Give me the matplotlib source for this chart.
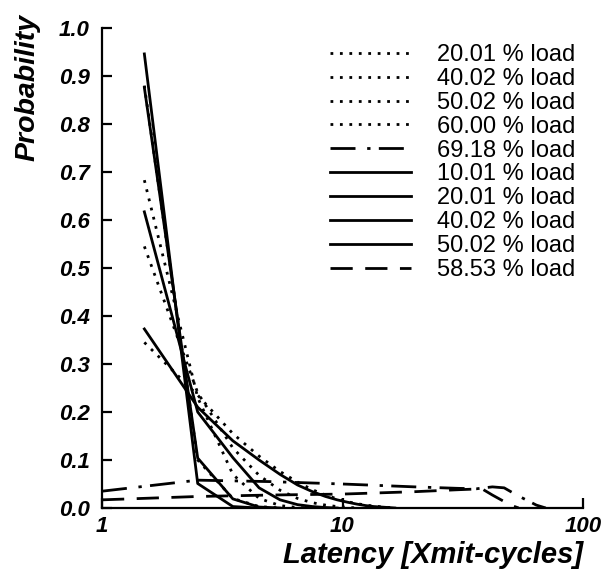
import matplotlib
matplotlib.use('Agg')
import matplotlib.pyplot as plt

plt.rcParams['font.family'] = ['Liberation Sans', 'DejaVu Sans']

# bin centres for the short-tailed curves
x_bins = [1.5, 2.5, 3.5, 4.5, 5.5, 6.5, 7.5, 8.5, 9.5, 10.5, 11.5, 12.5, 13.5, 14.5, 15.5, 16.5]

dot20 = [0.880, 0.100, 0.020, 0.003, 0.0]
dot40 = [0.683, 0.230, 0.070, 0.020, 0.005, 0.001, 0.0]
dot50 = [0.545, 0.240, 0.125, 0.068, 0.037, 0.020, 0.011, 0.006, 0.003, 0.0015, 0.0]
dot60 = [0.345, 0.235, 0.155, 0.108, 0.076, 0.054, 0.038, 0.027, 0.019, 0.013, 0.009, 0.006, 0.004, 0.0025, 0.0012, 0.0]

sol10 = [0.946, 0.051, 0.003, 0.0]
sol20 = [0.876, 0.104, 0.019, 0.002, 0.0]
sol40 = [0.617, 0.200, 0.105, 0.042, 0.017, 0.007, 0.003, 0.001, 0.0]
sol50 = [0.373, 0.210, 0.140, 0.100, 0.070, 0.048, 0.034, 0.024, 0.017, 0.012, 0.008, 0.005, 0.003, 0.002, 0.001, 0.0]

# heavy load curves (long tails)
dd69_x = [1.0, 2.5, 5, 10, 20, 30, 36, 42, 47, 53, 64, 70]
dd69_y = [0.035, 0.058, 0.055, 0.050, 0.044, 0.041, 0.040, 0.044, 0.042, 0.027, 0.006, 0.0]
da58_x = [1.0, 2.5, 5, 10, 20, 30, 38, 42, 50, 54]
da58_y = [0.017, 0.024, 0.027, 0.029, 0.034, 0.038, 0.040, 0.027, 0.006, 0.0]

dotted = (0, (1.0, 2.4))
dashdot = (0, (9, 4.2, 1.2, 3))
dashed = (0, (8, 4.5))

fig = plt.figure(figsize=(6.06, 5.74), dpi=100)
ax = fig.add_axes([102/606, 1 - 508/574, 481/606, 480/574])

lw = 2.0
ax.plot(x_bins[:len(dot20)], dot20, color='black', lw=lw, ls=dotted, label='20.01 % load')
ax.plot(x_bins[:len(dot40)], dot40, color='black', lw=lw, ls=dotted, label='40.02 % load')
ax.plot(x_bins[:len(dot50)], dot50, color='black', lw=lw, ls=dotted, label='50.02 % load')
ax.plot(x_bins[:len(dot60)], dot60, color='black', lw=lw, ls=dotted, label='60.00 % load')
ax.plot(dd69_x, dd69_y, color='black', lw=lw, ls=dashdot, label='69.18 % load')
ax.plot(x_bins[:len(sol10)], sol10, color='black', lw=lw, label='10.01 % load')
ax.plot(x_bins[:len(sol20)], sol20, color='black', lw=lw, label='20.01 % load')
ax.plot(x_bins[:len(sol40)], sol40, color='black', lw=lw, label='40.02 % load')
ax.plot(x_bins[:len(sol50)], sol50, color='black', lw=lw, label='50.02 % load')
ax.plot(da58_x, da58_y, color='black', lw=lw, ls=dashed, label='58.53 % load')

ax.set_xscale('log')
ax.set_xlim(1, 100)
ax.set_ylim(0, 1.0)
ax.set_xticks([1, 10, 100])
ax.set_xticklabels(['1', '10', '100'])
ax.xaxis.set_minor_locator(matplotlib.ticker.NullLocator())
ax.set_yticks([i / 10 for i in range(11)])
ax.set_yticklabels(['%.1f' % (i / 10) for i in range(11)])

for s in ['top', 'right']:
    ax.spines[s].set_visible(False)
for s in ['left', 'bottom']:
    ax.spines[s].set_linewidth(1.6)
ax.tick_params(direction='in', length=7, width=1.6)
ax.tick_params(axis='x', pad=6)
ax.tick_params(axis='y', pad=9)
for lab in ax.get_xticklabels() + ax.get_yticklabels():
    lab.set_fontsize(16)
    lab.set_fontweight('bold')
    lab.set_fontstyle('italic')

fig.text(28/606, 1 - 14/574, 'Probability', rotation=90, va='top', ha='center',
         fontsize=20.5, fontweight='bold', fontstyle='italic')
fig.text(583/606, 1 - 563/574, 'Latency [Xmit-cycles]', va='baseline', ha='right',
         fontsize=21, fontweight='bold', fontstyle='italic')

ax.legend(loc='upper left', bbox_to_anchor=(228/481, 1 - 16/480), frameon=False,
          fontsize=17, handlelength=3.45, handletextpad=1.1, labelspacing=0.08,
          borderpad=0, borderaxespad=0)

fig.savefig('out.png', dpi=100)
